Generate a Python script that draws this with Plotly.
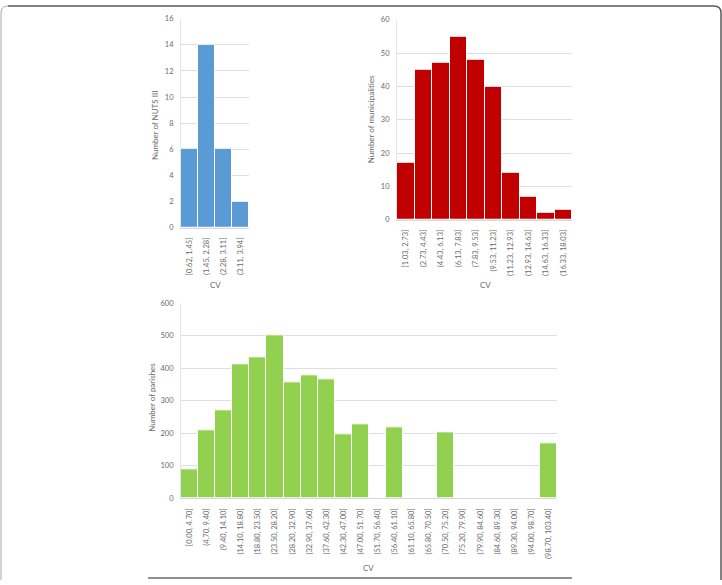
import plotly.graph_objects as go

W, H = 722, 585

nuts_bins = ["[0.62, 1.45]", "(1.45, 2.28]", "(2.28, 3.11]", "(3.11, 3.94]"]
nuts_counts = [6, 14, 6, 2]

mun_bins = ["[1.03, 2.73]", "(2.73, 4.43]", "(4.43, 6.13]", "(6.13, 7.83]", "(7.83, 9.53]",
            "(9.53, 11.23]", "(11.23, 12.93]", "(12.93, 14.63]", "(14.63, 16.33]", "(16.33, 18.03]"]
mun_counts = [17, 45, 47, 55, 48, 40, 14, 7, 2, 3]

par_bins = ["[0.00, 4.70]", "(4.70, 9.40]", "(9.40, 14.10]", "(14.10, 18.80]", "(18.80, 23.50]",
            "(23.50, 28.20]", "(28.20, 32.90]", "(32.90, 37.60]", "(37.60, 42.30]", "(42.30, 47.00]",
            "(47.00, 51.70]", "(51.70, 56.40]", "(56.40, 61.10]", "(61.10, 65.80]", "(65.80, 70.50]",
            "(70.50, 75.20]", "(75.20, 79.90]", "(79.90, 84.60]", "(84.60, 89.30]", "(89.30, 94.00]",
            "(94.00, 98.70]", "(98.70, 103.40]"]
par_counts = [88, 209, 270, 413, 435, 500, 358, 378, 366, 196, 228, 0, 218, 0, 0, 203,
              0, 0, 0, 0, 0, 169]

FONT = "Lato"
TXT = "#6a6a6a"
GRID = "#dedede"


def px_x(x):
    return x / W


def px_y(y):
    return 1 - y / H


fig = go.Figure()
fig.add_trace(go.Bar(x=nuts_bins, y=nuts_counts, marker=dict(color="#5b9bd5", line=dict(color="white", width=1)),
                     xaxis="x", yaxis="y"))
fig.add_trace(go.Bar(x=mun_bins, y=mun_counts, marker=dict(color="#c00000", line=dict(color="white", width=1)),
                     xaxis="x2", yaxis="y2"))
fig.add_trace(go.Bar(x=par_bins, y=par_counts, marker=dict(color="#92d050", line=dict(color="white", width=1)),
                     xaxis="x3", yaxis="y3"))

xcommon = dict(type="category", tickangle=-90, showgrid=False, showline=True, linecolor="#d9d9d9",
               linewidth=1, ticks="", tickfont=dict(family=FONT, size=7.5, color=TXT), ticklabelstandoff=6)
ycommon = dict(showgrid=True, gridcolor=GRID, gridwidth=1, zeroline=False, showline=True,
               linecolor="#e6e6e6", ticks="", tickfont=dict(family=FONT, size=7.5, color=TXT),
               ticklabelstandoff=5)

fig.update_layout(
    width=W, height=H, margin=dict(l=0, r=0, t=0, b=0),
    paper_bgcolor="white", plot_bgcolor="white", showlegend=False,
    bargap=0, font=dict(family=FONT, color=TXT),
    xaxis=dict(domain=[px_x(181), px_x(249)], anchor="y", **xcommon),
    yaxis=dict(domain=[px_y(227), px_y(15)], anchor="x", range=[0, 16], dtick=2, **ycommon),
    xaxis2=dict(domain=[px_x(397), px_x(572)], anchor="y2", **xcommon),
    yaxis2=dict(domain=[px_y(219), px_y(16)], anchor="x2", range=[0, 60], dtick=10, **ycommon),
    xaxis3=dict(domain=[px_x(181), px_x(557)], anchor="y3", **xcommon),
    yaxis3=dict(domain=[px_y(502), px_y(304)], anchor="x3", range=[0, 600], dtick=100, **ycommon),
)

ann = []
for (x, y, t, a) in [(215, 285, "CV", 0), (485, 285, "CV", 0), (368, 573, "CV", 0),
                     (155, 123, "Number of NUTS III", -90), (371, 117, "Number of municipalities", -90),
                     (152, 400, "Number of parishes", -90)]:
    ann.append(dict(x=px_x(x), y=px_y(y), xref="paper", yref="paper", text=t, showarrow=False,
                    textangle=a, xanchor="center", yanchor="middle",
                    font=dict(family=FONT, size=8, color=TXT)))
fig.update_layout(annotations=ann)

shapes = [
    # outer frame (top and right, dark)
    dict(type="path", xref="paper", yref="paper",
         path=f"M {px_x(8)},{px_y(2)} L {px_x(714)},{px_y(2)} Q {px_x(721)},{px_y(2)} {px_x(721)},{px_y(9)} L {px_x(721)},{px_y(585)}",
         line=dict(color="#5a5a5a", width=1.5)),
    # left frame (light)
    dict(type="path", xref="paper", yref="paper",
         path=f"M {px_x(1)},{px_y(585)} L {px_x(1)},{px_y(9)} Q {px_x(1)},{px_y(2)} {px_x(8)},{px_y(2)}",
         line=dict(color="#a8a8a8", width=1)),
    # bottom rule
    dict(type="line", xref="paper", yref="paper", x0=px_x(148), x1=px_x(572), y0=px_y(583), y1=px_y(583),
         line=dict(color="#6a6a6a", width=1.5)),
]
fig.update_layout(shapes=shapes)

fig.write_html("out.html")
